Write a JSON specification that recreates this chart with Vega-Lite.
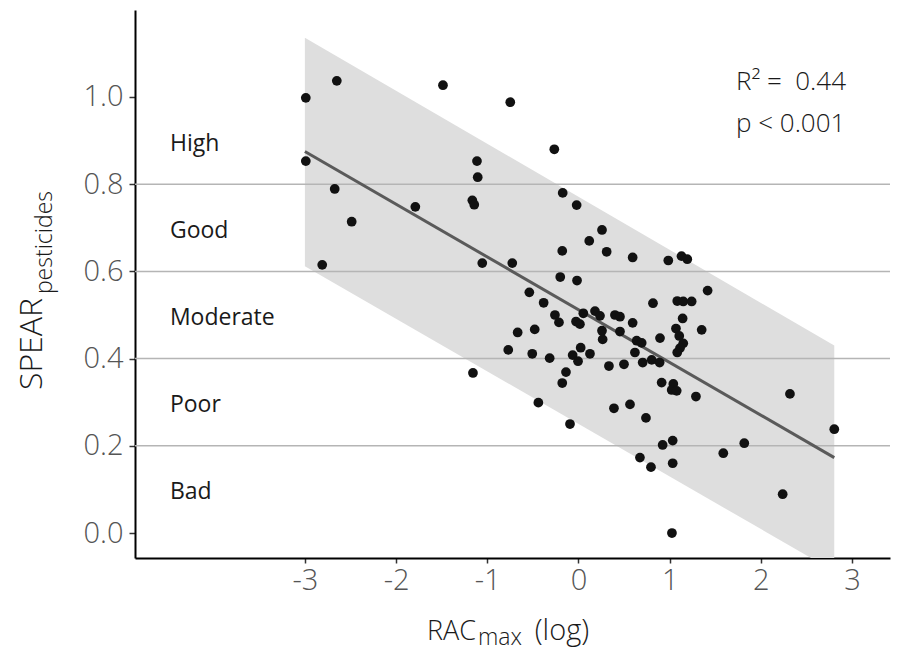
{
  "$schema": "https://vega.github.io/schema/vega-lite/v6.json",
  "width": 755,
  "height": 548,
  "autosize": {"type": "none"},
  "padding": {"left": 135, "top": 10, "right": 7, "bottom": 94},
  "background": "white",
  "config": {
    "view": {"stroke": null},
    "font": "Open Sans",
    "axis": {"grid": false, "domainColor": "#000000", "domainWidth": 2, "tickColor": "#333333", "tickWidth": 1.5,
      "labelFontSize": 29, "labelFontWeight": 300, "labelColor": "#555555", "labelFont": "Open Sans"},
    "axisX": {"tickSize": 5, "labelPadding": 3},
    "axisY": {"tickSize": 6, "labelPadding": 6}
  },
  "datasets": {
    "points": [
      {"rac": -2.99, "spear": 0.998}, {"rac": -2.65, "spear": 1.037}, {"rac": -1.486, "spear": 1.027}, {"rac": -0.748, "spear": 0.988},
      {"rac": -0.265, "spear": 0.880}, {"rac": -2.99, "spear": 0.853}, {"rac": -1.113, "spear": 0.853}, {"rac": -1.105, "spear": 0.816},
      {"rac": -2.673, "spear": 0.789}, {"rac": -0.173, "spear": 0.780}, {"rac": -0.02, "spear": 0.752}, {"rac": -1.789, "spear": 0.748},
      {"rac": -1.164, "spear": 0.763}, {"rac": -1.143, "spear": 0.753}, {"rac": -2.487, "spear": 0.714}, {"rac": -2.81, "spear": 0.615},
      {"rac": 0.258, "spear": 0.695}, {"rac": 0.118, "spear": 0.670}, {"rac": -0.178, "spear": 0.647}, {"rac": 0.309, "spear": 0.645},
      {"rac": 0.594, "spear": 0.632}, {"rac": 0.985, "spear": 0.625}, {"rac": 1.13, "spear": 0.635}, {"rac": 1.193, "spear": 0.628},
      {"rac": -1.055, "spear": 0.619}, {"rac": -0.726, "spear": 0.619}, {"rac": -0.2, "spear": 0.587}, {"rac": -0.016, "spear": 0.579},
      {"rac": -0.539, "spear": 0.552}, {"rac": 1.416, "spear": 0.556}, {"rac": -0.382, "spear": 0.528}, {"rac": 0.817, "spear": 0.527},
      {"rac": 1.083, "spear": 0.532}, {"rac": 1.149, "spear": 0.531}, {"rac": 1.241, "spear": 0.531}, {"rac": -0.258, "spear": 0.500},
      {"rac": -0.214, "spear": 0.483}, {"rac": 0.053, "spear": 0.504}, {"rac": 0.181, "spear": 0.509}, {"rac": 0.236, "spear": 0.498},
      {"rac": -0.027, "spear": 0.485}, {"rac": 0.016, "spear": 0.479}, {"rac": 0.4, "spear": 0.500}, {"rac": 0.455, "spear": 0.496},
      {"rac": 0.594, "spear": 0.482}, {"rac": 1.142, "spear": 0.492}, {"rac": -0.667, "spear": 0.460}, {"rac": -0.48, "spear": 0.467},
      {"rac": 0.258, "spear": 0.464}, {"rac": 0.265, "spear": 0.444}, {"rac": 0.455, "spear": 0.462}, {"rac": 0.638, "spear": 0.441},
      {"rac": 0.693, "spear": 0.436}, {"rac": 0.894, "spear": 0.447}, {"rac": 1.069, "spear": 0.469}, {"rac": 1.105, "spear": 0.452},
      {"rac": 1.351, "spear": 0.466}, {"rac": 1.149, "spear": 0.435}, {"rac": 1.113, "spear": 0.424}, {"rac": 1.083, "spear": 0.414},
      {"rac": -0.77, "spear": 0.420}, {"rac": -0.507, "spear": 0.411}, {"rac": -0.316, "spear": 0.401}, {"rac": 0.024, "spear": 0.425},
      {"rac": -0.064, "spear": 0.408}, {"rac": -0.005, "spear": 0.394}, {"rac": 0.126, "spear": 0.411}, {"rac": 0.619, "spear": 0.414},
      {"rac": 0.334, "spear": 0.383}, {"rac": 0.499, "spear": 0.387}, {"rac": 0.704, "spear": 0.391}, {"rac": 0.803, "spear": 0.397},
      {"rac": 0.89, "spear": 0.391}, {"rac": -0.137, "spear": 0.369}, {"rac": -0.178, "spear": 0.344}, {"rac": 0.912, "spear": 0.345},
      {"rac": 1.04, "spear": 0.342}, {"rac": 1.022, "spear": 0.328}, {"rac": 1.077, "spear": 0.326}, {"rac": 1.288, "spear": 0.313},
      {"rac": 2.319, "spear": 0.319}, {"rac": -0.44, "spear": 0.299}, {"rac": 0.565, "spear": 0.295}, {"rac": 0.389, "spear": 0.286},
      {"rac": 0.74, "spear": 0.264}, {"rac": -0.093, "spear": 0.250}, {"rac": 0.923, "spear": 0.202}, {"rac": 1.033, "spear": 0.212},
      {"rac": 1.588, "spear": 0.183}, {"rac": 1.818, "spear": 0.206}, {"rac": 0.674, "spear": 0.173}, {"rac": 0.795, "spear": 0.151},
      {"rac": 1.033, "spear": 0.160}, {"rac": 2.239, "spear": 0.089}, {"rac": 2.805, "spear": 0.238}, {"rac": 1.025, "spear": 0.000},
      {"rac": -1.157, "spear": 0.367}
    ],
    "fit": [
      {"rac": -3.0, "fit": 0.875, "lo": 0.612, "hi": 1.136},
      {"rac": 2.805, "fit": 0.173, "lo": -0.088, "hi": 0.43}
    ],
    "bands": [
      {"bound": 0.2}, {"bound": 0.4}, {"bound": 0.6}, {"bound": 0.8}
    ],
    "classes": [
      {"label": "High", "mid": 0.9}, {"label": "Good", "mid": 0.7}, {"label": "Moderate", "mid": 0.5},
      {"label": "Poor", "mid": 0.3}, {"label": "Bad", "mid": 0.1}
    ],
    "one": [{}]
  },
  "layer": [
    {
      "data": {"name": "fit"},
      "mark": {"type": "area", "color": "#dedede", "clip": true},
      "encoding": {
        "x": {"field": "rac", "type": "quantitative", "title": null, "scale": {"domain": [-4.863, 3.416], "nice": false, "zero": false},
          "axis": {"values": [-3, -2, -1, 0, 1, 2, 3], "labelExpr": "'' + datum.value", "title": null}},
        "y": {"field": "lo", "type": "quantitative", "title": null, "scale": {"domain": [-0.0573, 1.1995], "nice": false, "zero": false},
          "axis": {"values": [0, 0.2, 0.4, 0.6, 0.8, 1.0], "format": ".1f", "title": null}},
        "y2": {"field": "hi"}
      }
    },
    {
      "data": {"name": "bands"},
      "mark": {"type": "rule", "color": "#b5b5b5", "strokeWidth": 1.5},
      "encoding": {"y": {"field": "bound", "type": "quantitative", "title": null}}
    },
    {
      "data": {"name": "fit"},
      "mark": {"type": "line", "color": "#5a5a5a", "strokeWidth": 3},
      "encoding": {
        "x": {"field": "rac", "type": "quantitative", "title": null},
        "y": {"field": "fit", "type": "quantitative", "title": null}
      }
    },
    {
      "data": {"name": "points"},
      "mark": {"type": "circle", "color": "#111111", "opacity": 1, "size": 95},
      "encoding": {
        "x": {"field": "rac", "type": "quantitative", "title": null},
        "y": {"field": "spear", "type": "quantitative", "title": null}
      }
    },
    {
      "data": {"name": "classes"},
      "mark": {"type": "text", "align": "left", "baseline": "middle", "dy": 3, "fontSize": 23, "color": "#1a1a1a", "font": "Open Sans"},
      "encoding": {
        "x": {"datum": -4.48, "type": "quantitative", "title": null},
        "y": {"field": "mid", "type": "quantitative", "title": null},
        "text": {"field": "label"}
      }
    },
    {
      "data": {"name": "one"},
      "mark": {"type": "text", "text": "R² = \u00a00.44", "align": "left", "baseline": "alphabetic", "fontSize": 26, "fontWeight": 300, "color": "#1a1a1a"},
      "encoding": {"x": {"datum": 1.727, "type": "quantitative", "title": null}, "y": {"datum": 1.016, "type": "quantitative", "title": null}}
    },
    {
      "data": {"name": "one"},
      "mark": {"type": "text", "text": "p < 0.001", "align": "left", "baseline": "alphabetic", "fontSize": 26, "fontWeight": 300, "color": "#1a1a1a"},
      "encoding": {"x": {"datum": 1.727, "type": "quantitative", "title": null}, "y": {"datum": 0.92, "type": "quantitative", "title": null}}
    },
    {
      "data": {"name": "one"},
      "mark": {"type": "text", "text": "RAC", "align": "right", "baseline": "alphabetic", "fontSize": 27, "fontWeight": 300, "color": "#1a1a1a"},
      "encoding": {"x": {"datum": -1.124, "type": "quantitative", "title": null}, "y": {"datum": -0.2454, "type": "quantitative", "title": null}}
    },
    {
      "data": {"name": "one"},
      "mark": {"type": "text", "text": "max", "align": "left", "baseline": "alphabetic", "fontSize": 23, "fontWeight": 300, "color": "#1a1a1a"},
      "encoding": {"x": {"datum": -1.102, "type": "quantitative", "title": null}, "y": {"datum": -0.2569, "type": "quantitative", "title": null}}
    },
    {
      "data": {"name": "one"},
      "mark": {"type": "text", "text": "(log)", "align": "left", "baseline": "alphabetic", "fontSize": 29, "fontWeight": 300, "color": "#1a1a1a"},
      "encoding": {"x": {"datum": -0.48, "type": "quantitative", "title": null}, "y": {"datum": -0.2454, "type": "quantitative", "title": null}}
    },
    {
      "data": {"name": "one"},
      "mark": {"type": "text", "text": "SPEAR", "angle": 270, "align": "right", "baseline": "alphabetic", "fontSize": 32, "fontWeight": 300, "color": "#1a1a1a"},
      "encoding": {"x": {"datum": -5.883, "type": "quantitative", "title": null}, "y": {"datum": 0.539, "type": "quantitative", "title": null}}
    },
    {
      "data": {"name": "one"},
      "mark": {"type": "text", "text": "pesticides", "angle": 270, "align": "left", "baseline": "alphabetic", "fontSize": 23, "fontWeight": 300, "color": "#1a1a1a"},
      "encoding": {"x": {"datum": -5.776, "type": "quantitative", "title": null}, "y": {"datum": 0.548, "type": "quantitative", "title": null}}
    }
  ]
}
